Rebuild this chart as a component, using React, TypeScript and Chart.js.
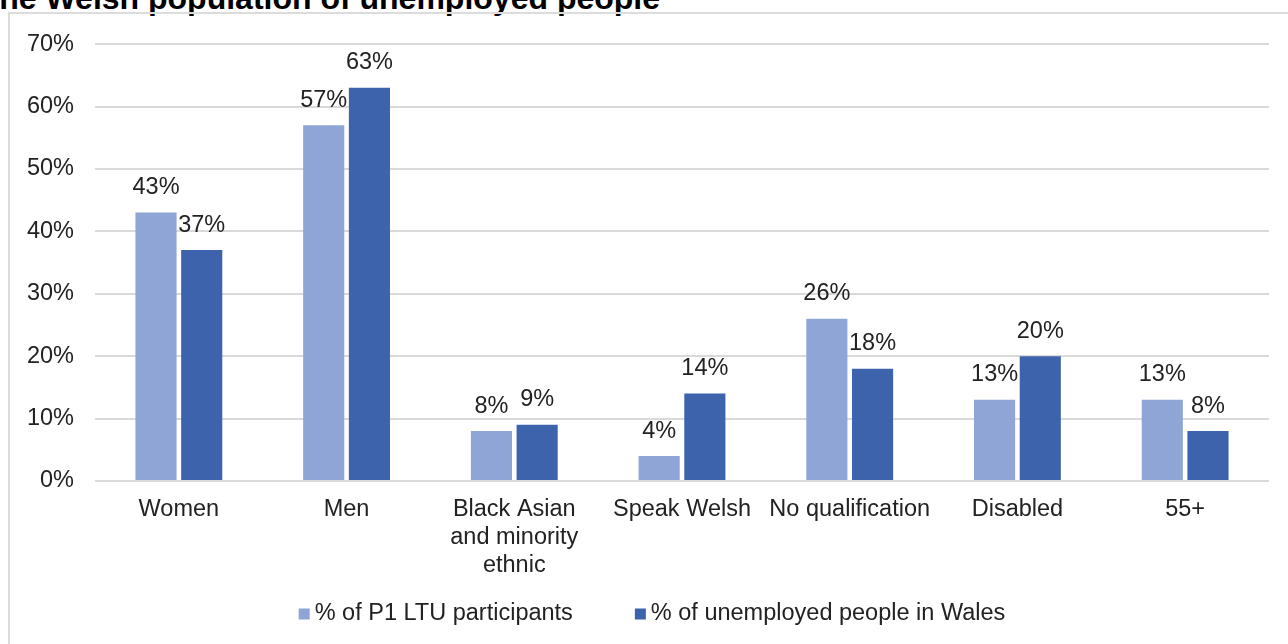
import { useEffect, useRef } from 'react';
import { Chart, registerables } from 'chart.js';

Chart.register(...registerables);

const titleText = 'the Welsh population of unemployed people';
const categories: (string | string[])[] = [
  'Women',
  'Men',
  ['Black Asian', 'and minority', 'ethnic'],
  'Speak Welsh',
  'No qualification',
  'Disabled',
  '55+',
];
const seriesLabels = ['% of P1 LTU participants', '% of unemployed people in Wales'];
const p1Values = [43, 57, 8, 4, 26, 13, 13];
const walesValues = [37, 63, 9, 14, 18, 20, 8];
const yMin = 0;
const yMax = 70;
const yStep = 10;

const FONT_FAMILY = '"Liberation Sans", Arial, sans-serif';
const FONT_SIZE = 23.5;
const TEXT_COLOR = '#222222';
const LIGHT = '#8FA5D5';
const DARK = '#3D63AD';

const dataLabelPlugin = {
  id: 'dataLabels',
  afterDatasetsDraw(chart: any) {
    const ctx = chart.ctx;
    ctx.save();
    ctx.font = `${FONT_SIZE}px ${FONT_FAMILY}`;
    ctx.fillStyle = TEXT_COLOR;
    ctx.textAlign = 'center';
    ctx.textBaseline = 'middle';
    chart.data.datasets.forEach((ds: any, di: number) => {
      const meta = chart.getDatasetMeta(di);
      meta.data.forEach((el: any, i: number) => {
        ctx.fillText(`${ds.data[i]}%`, el.x, el.y - 25);
      });
    });
    ctx.restore();
  },
};

const legendPlugin = {
  id: 'customLegend',
  afterDraw(chart: any) {
    const ctx = chart.ctx;
    ctx.save();
    ctx.font = `${FONT_SIZE}px ${FONT_FAMILY}`;
    ctx.textBaseline = 'middle';
    ctx.textAlign = 'left';
    const box = 11;
    const gap = 5;
    const itemGap = 62;
    const items = chart.data.datasets.map((ds: any) => ({
      text: ds.label,
      color: ds.backgroundColor,
      w: ctx.measureText(ds.label).width,
    }));
    const total =
      items.reduce((s: number, it: any) => s + box + gap + it.w, 0) + itemGap * (items.length - 1);
    let x = chart.width / 2 - total / 2 - 4;
    const cy = chart.height - 30;
    items.forEach((it: any) => {
      ctx.fillStyle = it.color;
      ctx.fillRect(x, cy - box / 2, box, box);
      ctx.fillStyle = TEXT_COLOR;
      ctx.fillText(it.text, x + box + gap, cy);
      x += box + gap + it.w + itemGap;
    });
    ctx.restore();
  },
};

export default function App() {
  const canvasRef = useRef<HTMLCanvasElement | null>(null);

  useEffect(() => {
    if (!canvasRef.current) return;
    const chart = new Chart(canvasRef.current, {
      type: 'bar',
      data: {
        labels: categories as any,
        datasets: [
          {
            label: seriesLabels[0],
            data: p1Values,
            backgroundColor: LIGHT,
            categoryPercentage: 0.545,
            barPercentage: 0.9,
          },
          {
            label: seriesLabels[1],
            data: walesValues,
            backgroundColor: DARK,
            categoryPercentage: 0.545,
            barPercentage: 0.9,
          },
        ],
      },
      options: {
        responsive: false,
        animation: false,
        devicePixelRatio: 1,
        layout: { padding: { top: 29, right: 33, left: 0, bottom: 0 } },
        plugins: {
          legend: { display: false },
          tooltip: { enabled: false },
          title: { display: false },
        },
        scales: {
          x: {
            grid: { display: false },
            border: { display: false },
            ticks: {
              autoSkip: false,
              maxRotation: 0,
              minRotation: 0,
              padding: 6,
              color: TEXT_COLOR,
              font: { family: FONT_FAMILY, size: FONT_SIZE, lineHeight: 1.2 },
            },
            afterFit: (scale: any) => {
              scale.height = 163;
            },
          },
          y: {
            min: yMin,
            max: yMax,
            grid: { color: '#d9d9d9', lineWidth: 2, drawTicks: false },
            border: { display: false },
            ticks: {
              stepSize: yStep,
              padding: 21,
              color: TEXT_COLOR,
              font: { family: FONT_FAMILY, size: FONT_SIZE },
              callback: (v: any) => `${v}%`,
            },
            afterFit: (scale: any) => {
              scale.width = 85;
            },
          },
        },
      },
      plugins: [dataLabelPlugin, legendPlugin],
    });
    return () => chart.destroy();
  }, []);

  return (
    <div
      style={{
        position: 'fixed',
        left: 0,
        top: 0,
        width: 1288,
        height: 644,
        overflow: 'hidden',
        background: '#ffffff',
      }}
    >
      <div
        style={{
          position: 'absolute',
          right: 628,
          top: -18,
          whiteSpace: 'nowrap',
          fontFamily: FONT_FAMILY,
          fontWeight: 'bold',
          fontSize: 32,
          lineHeight: '32px',
          color: '#000000',
          textAlign: 'right',
        }}
      >
        {titleText}
      </div>
      <div
        style={{
          position: 'absolute',
          left: 8,
          top: 12,
          width: 1320,
          height: 700,
          border: '2px solid #dcdcdc',
          boxSizing: 'border-box',
        }}
      />
      <canvas
        ref={canvasRef}
        width={1292}
        height={635}
        style={{ position: 'absolute', left: 10, top: 9, width: 1292, height: 635 }}
      />
    </div>
  );
}
